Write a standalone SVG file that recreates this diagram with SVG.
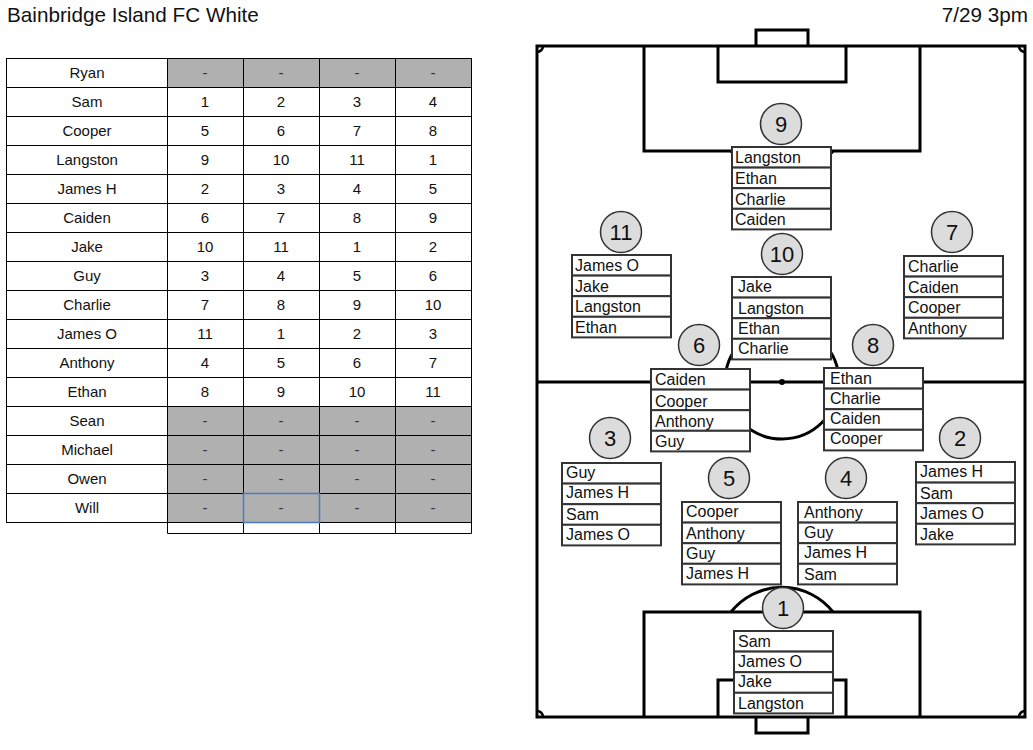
<svg xmlns="http://www.w3.org/2000/svg" width="1033" height="750" viewBox="0 0 1033 750">
<style>
text{font-family:"Liberation Sans",Arial,sans-serif;fill:#111}
.title{font-size:20.7px}
.tc{font-size:15px;text-anchor:middle}
.dash{font-size:15px;text-anchor:middle;fill:#333}
.grid{stroke:#000;stroke-width:1;fill:none}
.grey{fill:#b0b0b0}
.fl{stroke:#000;stroke-width:3;fill:none}
.row{fill:#fff;stroke:#333;stroke-width:2}
.nm{font-size:16px}
.num{fill:#dcdcdc;stroke:#333;stroke-width:1.5}
.nt{font-size:22px;text-anchor:middle}
</style>
<rect width="1033" height="750" fill="#fff"/>
<text class="title" x="7" y="22">Bainbridge Island FC White</text>
<text class="title" x="1028" y="22" text-anchor="end">7/29 3pm</text>

<g id="roster">
<rect class="grey" x="167" y="59" width="304" height="29"/>
<rect class="grey" x="167" y="406" width="304" height="116"/>
<g class="grid">
<rect x="6.5" y="58.5" width="465" height="464"/>
<path d="M6.5 87.5H471.5M6.5 116.5H471.5M6.5 145.5H471.5M6.5 174.5H471.5M6.5 203.5H471.5M6.5 232.5H471.5M6.5 261.5H471.5M6.5 290.5H471.5M6.5 319.5H471.5M6.5 348.5H471.5M6.5 377.5H471.5M6.5 406.5H471.5M6.5 435.5H471.5M6.5 464.5H471.5M6.5 493.5H471.5M167.5 533.5H471.5"/>
<path d="M167.5 58.5V533.5M243.5 58.5V533.5M319.5 58.5V533.5M395.5 58.5V533.5M471.5 58.5V533.5"/>
</g>
<rect x="243.5" y="493.5" width="76" height="29" fill="none" stroke="#4a78c4" stroke-width="1.5"/>
<g class="tc">
<text x="87" y="78">Ryan</text><text class="dash" x="205" y="78">-</text><text class="dash" x="281" y="78">-</text><text class="dash" x="357" y="78">-</text><text class="dash" x="433" y="78">-</text>
<text x="87" y="107">Sam</text><text x="205" y="107">1</text><text x="281" y="107">2</text><text x="357" y="107">3</text><text x="433" y="107">4</text>
<text x="87" y="136">Cooper</text><text x="205" y="136">5</text><text x="281" y="136">6</text><text x="357" y="136">7</text><text x="433" y="136">8</text>
<text x="87" y="165">Langston</text><text x="205" y="165">9</text><text x="281" y="165">10</text><text x="357" y="165">11</text><text x="433" y="165">1</text>
<text x="87" y="194">James H</text><text x="205" y="194">2</text><text x="281" y="194">3</text><text x="357" y="194">4</text><text x="433" y="194">5</text>
<text x="87" y="223">Caiden</text><text x="205" y="223">6</text><text x="281" y="223">7</text><text x="357" y="223">8</text><text x="433" y="223">9</text>
<text x="87" y="252">Jake</text><text x="205" y="252">10</text><text x="281" y="252">11</text><text x="357" y="252">1</text><text x="433" y="252">2</text>
<text x="87" y="281">Guy</text><text x="205" y="281">3</text><text x="281" y="281">4</text><text x="357" y="281">5</text><text x="433" y="281">6</text>
<text x="87" y="310">Charlie</text><text x="205" y="310">7</text><text x="281" y="310">8</text><text x="357" y="310">9</text><text x="433" y="310">10</text>
<text x="87" y="339">James O</text><text x="205" y="339">11</text><text x="281" y="339">1</text><text x="357" y="339">2</text><text x="433" y="339">3</text>
<text x="87" y="368">Anthony</text><text x="205" y="368">4</text><text x="281" y="368">5</text><text x="357" y="368">6</text><text x="433" y="368">7</text>
<text x="87" y="397">Ethan</text><text x="205" y="397">8</text><text x="281" y="397">9</text><text x="357" y="397">10</text><text x="433" y="397">11</text>
<text x="87" y="426">Sean</text><text class="dash" x="205" y="426">-</text><text class="dash" x="281" y="426">-</text><text class="dash" x="357" y="426">-</text><text class="dash" x="433" y="426">-</text>
<text x="87" y="455">Michael</text><text class="dash" x="205" y="455">-</text><text class="dash" x="281" y="455">-</text><text class="dash" x="357" y="455">-</text><text class="dash" x="433" y="455">-</text>
<text x="87" y="484">Owen</text><text class="dash" x="205" y="484">-</text><text class="dash" x="281" y="484">-</text><text class="dash" x="357" y="484">-</text><text class="dash" x="433" y="484">-</text>
<text x="87" y="513">Will</text><text class="dash" x="205" y="513">-</text><text class="dash" x="281" y="513">-</text><text class="dash" x="357" y="513">-</text><text class="dash" x="433" y="513">-</text>
</g>
</g>

<g id="field" class="fl">
<rect x="537" y="46" width="488" height="671"/>
<path d="M537 382H1025"/>
<circle cx="782" cy="382" r="57"/>
<circle cx="782" cy="382" r="3" fill="#000" stroke="none"/>
<path d="M756 46V30H808V46"/>
<path d="M718 46V82H846V46"/>
<path d="M644 46V151H920V46"/>
<path d="M731 151A65 65 0 0 0 833 151"/>
<path d="M756 717V733H808V717"/>
<path d="M718 717V680H846V717"/>
<path d="M644 717V612H920V717"/>
<path d="M731 612A65 65 0 0 1 833 612"/>
<path d="M537 52A6 6 0 0 0 543 46M1019 46A6 6 0 0 0 1025 52M537 711A6 6 0 0 1 543 717M1019 717A6 6 0 0 1 1025 711" stroke-width="2.5"/>
</g>

<g id="connectors"></g>

<g id="pos9">
<circle class="num" cx="781" cy="124" r="20.5"/><text class="nt" x="781" y="132">9</text>
<g transform="translate(732,147)"><rect class="row" width="99" height="20.6"/><rect class="row" y="20.6" width="99" height="20.6"/><rect class="row" y="41.2" width="99" height="20.6"/><rect class="row" y="61.8" width="99" height="20.6"/>
<text class="nm" x="3" y="16">Langston</text><text class="nm" x="3" y="36.6">Ethan</text><text class="nm" x="3" y="57.6">Charlie</text><text class="nm" x="3" y="78">Caiden</text></g>
</g>
<g id="pos11">
<circle class="num" cx="621" cy="232" r="20.5"/><text class="nt" x="621" y="240">11</text>
<g transform="translate(572,255)"><rect class="row" width="99" height="20.6"/><rect class="row" y="20.6" width="99" height="20.6"/><rect class="row" y="41.2" width="99" height="20.6"/><rect class="row" y="61.8" width="99" height="20.6"/>
<text class="nm" x="3" y="16">James O</text><text class="nm" x="3" y="36.6">Jake</text><text class="nm" x="3" y="57.2">Langston</text><text class="nm" x="3" y="78">Ethan</text></g>
</g>
<g id="pos10">
<circle class="num" cx="782" cy="254" r="20.5"/><text class="nt" x="782" y="262">10</text>
<g transform="translate(732,277)"><rect class="row" width="99" height="20.6"/><rect class="row" y="20.6" width="99" height="20.6"/><rect class="row" y="41.2" width="99" height="20.6"/><rect class="row" y="61.8" width="99" height="20.6"/>
<text class="nm" x="6" y="15">Jake</text><text class="nm" x="6" y="37">Langston</text><text class="nm" x="6" y="57">Ethan</text><text class="nm" x="6" y="77">Charlie</text></g>
</g>
<g id="pos7">
<circle class="num" cx="952" cy="232" r="20.5"/><text class="nt" x="952" y="240">7</text>
<g transform="translate(904,256)"><rect class="row" width="99" height="20.6"/><rect class="row" y="20.6" width="99" height="20.6"/><rect class="row" y="41.2" width="99" height="20.6"/><rect class="row" y="61.8" width="99" height="20.6"/>
<text class="nm" x="4" y="16">Charlie</text><text class="nm" x="4" y="36.6">Caiden</text><text class="nm" x="4" y="56.6">Cooper</text><text class="nm" x="4" y="78">Anthony</text></g>
</g>
<g id="pos6">
<circle class="num" cx="699" cy="345" r="20.5"/><text class="nt" x="699" y="353">6</text>
<g transform="translate(651,369)"><rect class="row" width="99" height="20.6"/><rect class="row" y="20.6" width="99" height="20.6"/><rect class="row" y="41.2" width="99" height="20.6"/><rect class="row" y="61.8" width="99" height="20.6"/>
<text class="nm" x="4" y="16">Caiden</text><text class="nm" x="4" y="37.6">Cooper</text><text class="nm" x="4" y="57.6">Anthony</text><text class="nm" x="4" y="77.6">Guy</text></g>
</g>
<g id="pos8">
<circle class="num" cx="873" cy="345" r="20.5"/><text class="nt" x="873" y="353">8</text>
<g transform="translate(824,368)"><rect class="row" width="99" height="20.6"/><rect class="row" y="20.6" width="99" height="20.6"/><rect class="row" y="41.2" width="99" height="20.6"/><rect class="row" y="61.8" width="99" height="20.6"/>
<text class="nm" x="6" y="16">Ethan</text><text class="nm" x="6" y="36">Charlie</text><text class="nm" x="6" y="56">Caiden</text><text class="nm" x="6" y="76">Cooper</text></g>
</g>
<g id="pos3">
<circle class="num" cx="610" cy="438" r="20.5"/><text class="nt" x="610" y="446">3</text>
<g transform="translate(562,463)"><rect class="row" width="99" height="20.6"/><rect class="row" y="20.6" width="99" height="20.6"/><rect class="row" y="41.2" width="99" height="20.6"/><rect class="row" y="61.8" width="99" height="20.6"/>
<text class="nm" x="4" y="15">Guy</text><text class="nm" x="4" y="35">James H</text><text class="nm" x="4" y="57">Sam</text><text class="nm" x="4" y="77">James O</text></g>
</g>
<g id="pos2">
<circle class="num" cx="960" cy="438" r="20.5"/><text class="nt" x="960" y="446">2</text>
<g transform="translate(916,462)"><rect class="row" width="99" height="20.6"/><rect class="row" y="20.6" width="99" height="20.6"/><rect class="row" y="41.2" width="99" height="20.6"/><rect class="row" y="61.8" width="99" height="20.6"/>
<text class="nm" x="4" y="15">James H</text><text class="nm" x="4" y="37">Sam</text><text class="nm" x="4" y="57">James O</text><text class="nm" x="4" y="78">Jake</text></g>
</g>
<g id="pos5">
<circle class="num" cx="729" cy="478" r="20.5"/><text class="nt" x="729" y="486">5</text>
<g transform="translate(682,502)"><rect class="row" width="99" height="20.6"/><rect class="row" y="20.6" width="99" height="20.6"/><rect class="row" y="41.2" width="99" height="20.6"/><rect class="row" y="61.8" width="99" height="20.6"/>
<text class="nm" x="4" y="15">Cooper</text><text class="nm" x="4" y="37">Anthony</text><text class="nm" x="4" y="57">Guy</text><text class="nm" x="4" y="77">James H</text></g>
</g>
<g id="pos4">
<circle class="num" cx="846" cy="478" r="20.5"/><text class="nt" x="846" y="486">4</text>
<g transform="translate(798,502)"><rect class="row" width="99" height="20.6"/><rect class="row" y="20.6" width="99" height="20.6"/><rect class="row" y="41.2" width="99" height="20.6"/><rect class="row" y="61.8" width="99" height="20.6"/>
<text class="nm" x="6" y="16">Anthony</text><text class="nm" x="6" y="36">Guy</text><text class="nm" x="6" y="56">James H</text><text class="nm" x="6" y="78">Sam</text></g>
</g>
<g id="pos1">
<circle class="num" cx="783" cy="608" r="20.5"/><text class="nt" x="783" y="616">1</text>
<g transform="translate(734,631)"><rect class="row" width="99" height="20.6"/><rect class="row" y="20.6" width="99" height="20.6"/><rect class="row" y="41.2" width="99" height="20.6"/><rect class="row" y="61.8" width="99" height="20.6"/>
<text class="nm" x="4" y="16">Sam</text><text class="nm" x="4" y="36">James O</text><text class="nm" x="4" y="56">Jake</text><text class="nm" x="4" y="78">Langston</text></g>
</g>
</svg>
